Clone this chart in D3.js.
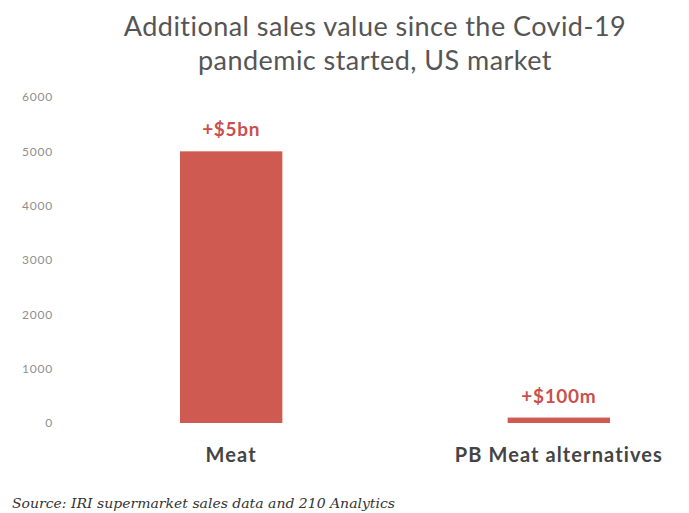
<!DOCTYPE html>
<html>
<head>
<meta charset="utf-8">
<script src="https://cdn.jsdelivr.net/npm/d3@7"></script>
<style>
  html, body { margin: 0; padding: 0; background: #fff; }
  svg { display: block; }
</style>
</head>
<body>
<svg id="chart" width="689" height="513"></svg>
<script>
// Additional sales value (US$ millions) since the pandemic started
const categories = ["Meat", "PB Meat alternatives"];
const values = [5000, 100];
const valueLabels = ["+$5bn", "+$100m"];
const yTicks = [0, 1000, 2000, 3000, 4000, 5000, 6000];
const titleLines = ["Additional sales value since the Covid-19", "pandemic started, US market"];
const sourceText = "Source: IRI supermarket sales data and 210 Analytics";

const svg = d3.select("#chart");

const x = d3.scaleBand()
  .domain(categories)
  .range([180, 610])
  .paddingInner(0.6876)
  .paddingOuter(0);

const y = d3.scaleLinear()
  .domain([0, 6000])
  .range([423, 97]);

const barColor = "#cf5a51";
const labelColor = "#c9504c";
const sans = "Lato, 'Open Sans', sans-serif";

// Title
svg.append("g")
  .selectAll("text")
  .data(titleLines)
  .join("text")
  .attr("x", 375)
  .attr("y", (d, i) => 36 + i * 34)
  .attr("text-anchor", "middle")
  .attr("font-family", sans)
  .attr("font-size", 27)
  .attr("letter-spacing", 0.45)
  .attr("fill", "#555")
  .text(d => d);

// Y axis (labels only)
const yAxis = d3.axisLeft(y)
  .tickValues(yTicks)
  .tickSize(0)
  .tickPadding(0)
  .tickFormat(d3.format("d"));

const gy = svg.append("g")
  .attr("transform", "translate(53,0)")
  .call(yAxis);
gy.select(".domain").remove();
gy.selectAll("text")
  .attr("font-family", sans)
  .attr("font-size", 12)
  .attr("letter-spacing", 0.8)
  .attr("fill", "#8f8f8f");

// Bars
svg.append("g")
  .selectAll("rect")
  .data(values)
  .join("rect")
  .attr("x", (d, i) => x(categories[i]))
  .attr("width", x.bandwidth())
  .attr("y", d => y(d))
  .attr("height", d => y(0) - y(d))
  .attr("fill", barColor);

// Value labels
svg.append("g")
  .selectAll("text")
  .data(values)
  .join("text")
  .attr("x", (d, i) => x(categories[i]) + x.bandwidth() / 2)
  .attr("y", d => y(d) - 15)
  .attr("text-anchor", "middle")
  .attr("font-family", sans)
  .attr("font-weight", "bold")
  .attr("font-size", 19)
  .attr("letter-spacing", 0.7)
  .attr("fill", labelColor)
  .text((d, i) => valueLabels[i]);

// Category labels
const xAxis = d3.axisBottom(x).tickSize(0).tickPadding(0);
const gx = svg.append("g")
  .attr("transform", "translate(0,446)")
  .call(xAxis);
gx.select(".domain").remove();
gx.selectAll("text")
  .attr("dy", "0.8em")
  .attr("font-family", sans)
  .attr("font-weight", "bold")
  .attr("font-size", 20)
  .attr("letter-spacing", 1.1)
  .attr("fill", "#444");

// Source note
svg.append("text")
  .attr("x", 12)
  .attr("y", 508)
  .attr("font-family", "'DejaVu Serif', 'Liberation Serif', serif")
  .attr("font-style", "italic")
  .attr("font-size", 12)
  .attr("textLength", 383)
  .attr("lengthAdjust", "spacingAndGlyphs")
  .attr("fill", "#333")
  .text(sourceText);
</script>
</body>
</html>
